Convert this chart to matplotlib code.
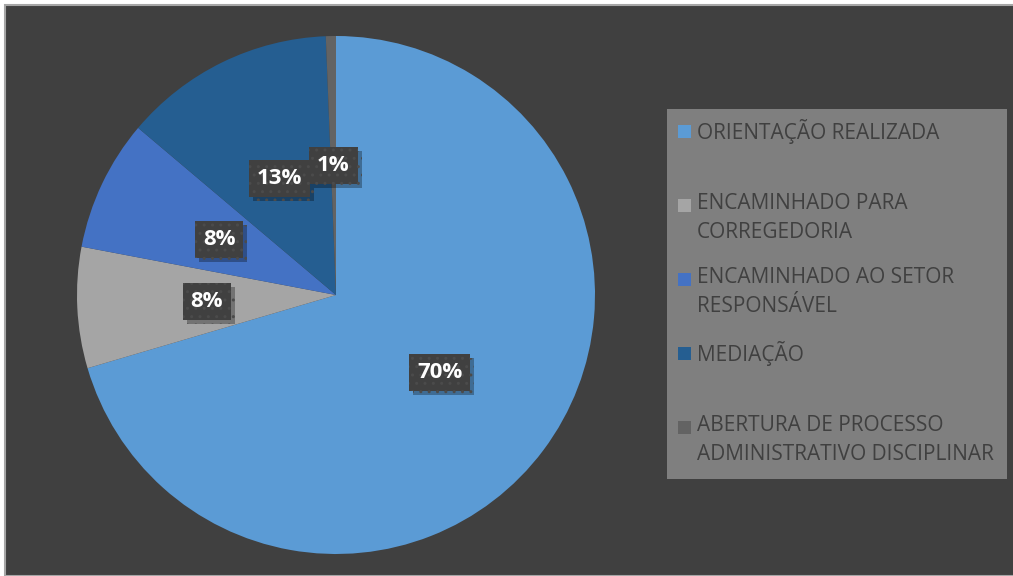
import matplotlib.pyplot as plt
from matplotlib.patches import Rectangle
import matplotlib.patheffects as pe

# --- data ---
categories = [
    "ORIENTAÇÃO REALIZADA",
    "ENCAMINHADO PARA\nCORREGEDORIA",
    "ENCAMINHADO AO SETOR\nRESPONSÁVEL",
    "MEDIAÇÃO",
    "ABERTURA DE PROCESSO\nADMINISTRATIVO DISCIPLINAR",
]
counts = [112, 12, 13, 21, 1]
colors = ["#5B9BD5", "#A5A5A5", "#4472C4", "#255E91", "#636363"]

W, H = 1013, 576
fig = plt.figure(figsize=(W / 100, H / 100), dpi=100, facecolor="white")

# dark chart area with light border at left/top
fig.patches.append(Rectangle((5 / W, 0), 1.0, 1 - 5 / H, transform=fig.transFigure,
                             facecolor="#404040", edgecolor="#A6A6A6", linewidth=1.5,
                             zorder=-2))

# pie: centre (336, 295) px, radius 259 px
cx, cy, r = 336, 295, 259
ax = fig.add_axes([(cx - r) / W, (H - cy - r) / H, 2 * r / W, 2 * r / H])
ax.set_facecolor("none")
ax.set_zorder(2)

wedges, texts, autotexts = ax.pie(
    counts, colors=colors, startangle=90, counterclock=False,
    autopct="%.0f%%", pctdistance=0.5, radius=1,
    wedgeprops=dict(linewidth=0),
    textprops=dict(color="white", fontsize=16, fontweight="bold", family="Open Sans"),
)
ax.set_xlim(-1, 1)
ax.set_ylim(-1, 1)
ax.set_aspect("auto")

for t in autotexts:
    t.set_bbox(dict(boxstyle="square,pad=0.35", facecolor="#404040",
                    edgecolor="#4B4B4B", hatch="..", linewidth=0))
    t.get_bbox_patch().set_path_effects([
        pe.SimplePatchShadow(offset=(3, -3), shadow_rgbFace="black", alpha=0.3),
        pe.Normal(),
    ])

# legend box drawn by hand so wrapped labels line up like evenly spaced slots
lx0, ly0, lx1, ly1 = 667, 109, 1007, 479
fig.patches.append(Rectangle((lx0 / W, 1 - ly1 / H), (lx1 - lx0) / W, (ly1 - ly0) / H,
                             transform=fig.transFigure, facecolor="#7F7F7F",
                             edgecolor="none", zorder=-1))
slot_top = 131
slot_step = 74
for i, (lab, col) in enumerate(zip(categories, colors)):
    y = slot_top + i * slot_step
    fig.patches.append(Rectangle((678 / W, 1 - (y + 7) / H), 13 / W, 13 / H,
                                 transform=fig.transFigure, facecolor=col,
                                 edgecolor="none", zorder=3))
    fig.text(697 / W, 1 - (y - 12) / H, lab, ha="left", va="top",
             fontsize=15, color="#404040", family="Open Sans",
             linespacing=1.48, zorder=3)

fig.savefig("out.png", dpi=100, facecolor=fig.get_facecolor())
